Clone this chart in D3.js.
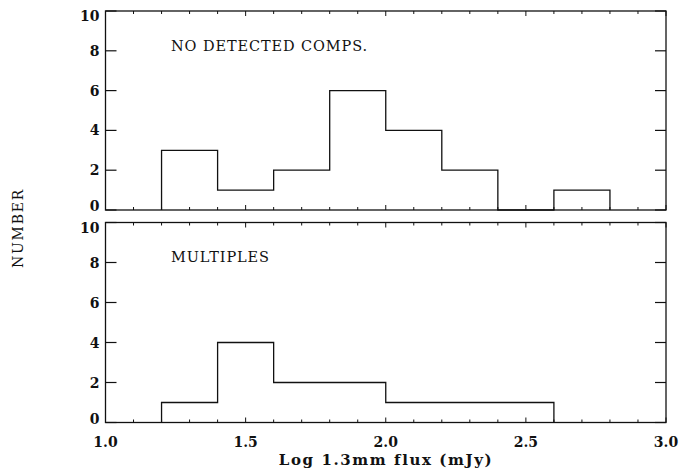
<!DOCTYPE html>
<html>
<head>
<meta charset="utf-8">
<script src="https://cdn.jsdelivr.net/npm/d3@7"></script>
<style>
  body { margin:0; background:#fff; }
  text { font-family:"DejaVu Serif", serif; fill:#111; }
</style>
</head>
<body>
<svg id="chart" width="680" height="469"></svg>
<script>
// bin edges shared by both histograms (log flux, width 0.2)
const binEdges = [1.2, 1.4, 1.6, 1.8, 2.0, 2.2, 2.4, 2.6, 2.8];
const noDetected = [3, 1, 2, 6, 4, 2, 0, 1];
const multiples = [1, 4, 2, 2, 1, 1, 1];
const xTicks = [1.0, 1.5, 2.0, 2.5, 3.0];
const yTicks = [0, 2, 4, 6, 8, 10];
const panelLabels = ["NO DETECTED COMPS.", "MULTIPLES"];

const svg = d3.select("#chart");
const L = 105.5, R = 666;
const panels = [
  { top: 11, bottom: 210, counts: noDetected, label: panelLabels[0] },
  { top: 222.5, bottom: 422.5, counts: multiples, label: panelLabels[1] }
];
const x = d3.scaleLinear().domain([1.0, 3.0]).range([L, R]);
const minorX = d3.range(1.0, 3.0001, 0.1);

function stepPath(counts, y) {
  // outline: up from zero at first edge, steps across, back down at last edge
  const pts = [[x(binEdges[0]), y(0)]];
  counts.forEach((c, i) => {
    pts.push([x(binEdges[i]), y(c)]);
    pts.push([x(binEdges[i+1]), y(c)]);
  });
  pts.push([x(binEdges[counts.length]), y(0)]);
  return d3.line()(pts);
}

panels.forEach((p, pi) => {
  const y = d3.scaleLinear().domain([0, 10]).range([p.bottom, p.top]);
  const g = svg.append("g");
  // frame
  g.append("rect").attr("x", L).attr("y", p.top).attr("width", R-L).attr("height", p.bottom-p.top)
    .attr("fill", "none").attr("stroke", "#111").attr("stroke-width", 1.3);
  // x ticks top and bottom (minor every 0.1, slightly longer every 0.5)
  g.selectAll("line.xt").data(minorX.flatMap(v => [{v, b:true}, {v, b:false}])).join("line").attr("class", "xt")
    .attr("x1", d => x(d.v)).attr("x2", d => x(d.v))
    .attr("y1", d => d.b ? p.bottom : p.top)
    .attr("y2", d => {
      const len = Math.abs(d.v*2 - Math.round(d.v*2)) < 1e-6 ? 5 : 3;
      return d.b ? p.bottom-len : p.top+len;
    })
    .attr("stroke", "#111").attr("stroke-width", 1);
  // y ticks left and right
  g.selectAll("line.yt").data(yTicks.flatMap(v => [{v, l:true}, {v, l:false}])).join("line").attr("class", "yt")
    .attr("x1", d => d.l ? L : R).attr("x2", d => d.l ? L+11 : R-11)
    .attr("y1", d => y(d.v)).attr("y2", d => y(d.v))
    .attr("stroke", "#111").attr("stroke-width", 1.2);
  // y tick labels (end labels nudged inward, as in the original)
  g.selectAll("text.yl").data(yTicks).join("text").attr("class", "yl")
    .attr("x", L-6).attr("y", d => y(d) + (d === 0 ? -4 : d === 10 ? 5 : 0)).attr("dy", "0.36em").attr("text-anchor", "end")
    .style("font-size", "14px").style("font-weight", "bold").text(d => d);
  // histogram
  g.append("path").attr("d", stepPath(p.counts, y)).attr("fill", "none").attr("stroke", "#111").attr("stroke-width", 1.3);
  // label
  g.append("text").attr("x", 171).attr("y", p.top + (pi === 0 ? 40 : 39.5))
    .style("font-size", "14.5px").style("letter-spacing", "0.9px").text(p.label);
});

// x tick labels
svg.selectAll("text.xl").data(xTicks).join("text").attr("class", "xl")
  .attr("x", d => x(d)).attr("y", 447).attr("text-anchor", "middle")
  .style("font-size", "14px").style("font-weight", "bold").text(d => d.toFixed(1));

svg.append("text").attr("x", 386).attr("y", 465).attr("text-anchor", "middle")
  .style("font-size", "15px").style("font-weight", "bold").style("letter-spacing", "1.6px").text("Log 1.3mm flux (mJy)");

svg.append("text").attr("transform", "translate(23,228) rotate(-90)").attr("text-anchor", "middle")
  .style("font-size", "14px").style("letter-spacing", "1.8px").text("NUMBER");
</script>
</body>
</html>
